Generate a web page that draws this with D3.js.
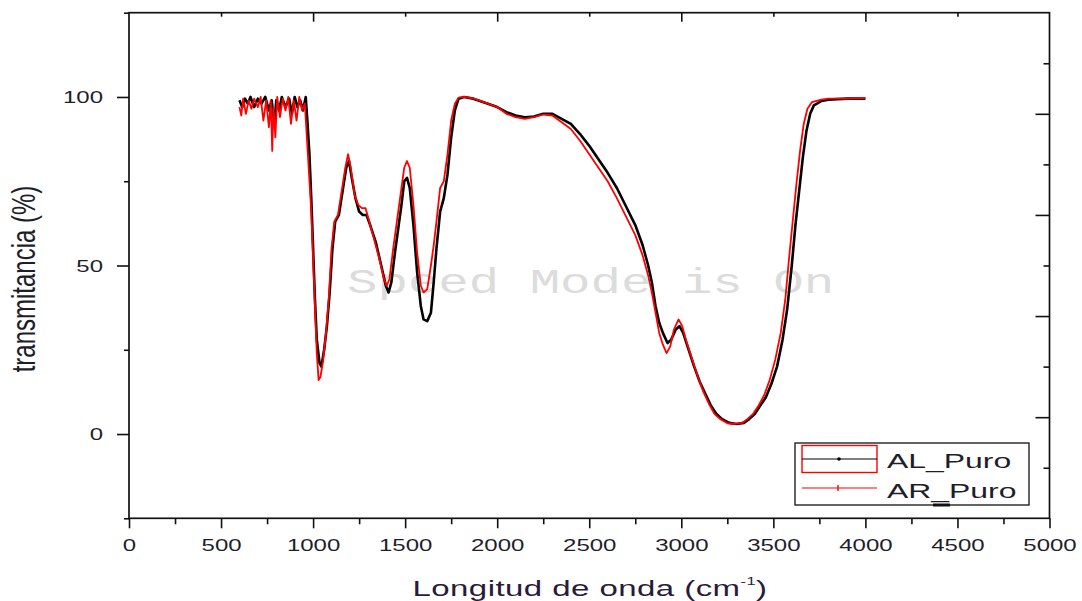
<!DOCTYPE html>
<html><head><meta charset="utf-8">
<script src="https://cdn.jsdelivr.net/npm/d3@7"></script>
<style>html,body{margin:0;padding:0;background:#fff;}svg{display:block;font-family:"Liberation Sans",Arial,sans-serif;}</style>
</head><body><svg id="chart" width="1082" height="601"></svg>
<script>
// ---- data (wavenumber cm^-1, transmittance %) ----
const alWave  = [600,615,630,645,660,680,700,720,740,760,775,790,800,815,830,850,870,885,900,915,930,945,960,970,980,990,1000,1010,1020,1035,1045,1060,1075,1090,1105,1120,1140,1160,1180,1195,1210,1230,1250,1270,1290,1310,1340,1370,1395,1410,1425,1445,1465,1480,1495,1510,1525,1545,1565,1585,1600,1620,1640,1655,1670,1690,1710,1730,1750,1770,1790,1820,1870,1950,2000,2050,2100,2150,2200,2250,2300,2350,2400,2450,2500,2550,2600,2650,2700,2750,2790,2820,2840,2860,2880,2900,2925,2945,2970,2990,3010,3040,3070,3100,3130,3160,3190,3220,3260,3300,3340,3370,3400,3430,3460,3490,3520,3550,3575,3600,3620,3640,3660,3680,3700,3720,3760,3800,3900,4000];
const alTrans = [99,97,99.5,98,100,97,99.5,98,100,96,99,92,99,96,100,97,99.5,95,100,97,99,96,100,92,83,70,55,40,28,21,20,25,32,42,55,63,65,72,79,81,76,70,66,65,65,62,57,50,44,42,45,54,62,68,75,76,73,62,48,38,34,33.5,36,45,55,66,70,77,88,96,99.5,100,99.5,98,97,95.5,94.5,94,94.2,95,95,93.5,92,89,85.5,81.5,77.5,73,67.5,62,56,50,45,38,33,30,27,28,31,32,30,25,20,15.5,12,8.5,6,4.5,3.3,3,3.3,4.5,6,8.5,11,15,20,28,37,50,62,72,82,90,95,97.5,98.8,99.2,99.5,99.5];
const arWave  = [600,610,620,635,650,665,680,700,715,730,745,760,770,778,785,795,805,820,835,850,865,880,895,910,925,940,955,965,975,990,1000,1010,1020,1030,1040,1055,1070,1085,1100,1115,1135,1155,1175,1190,1205,1225,1245,1265,1285,1300,1330,1360,1385,1400,1415,1435,1455,1475,1495,1510,1525,1545,1565,1585,1600,1620,1640,1655,1670,1690,1710,1730,1750,1770,1790,1820,1870,1950,2000,2050,2100,2150,2200,2250,2300,2350,2400,2450,2500,2550,2600,2650,2700,2750,2790,2820,2840,2860,2880,2900,2920,2940,2960,2985,3005,3030,3060,3090,3120,3150,3180,3210,3250,3290,3330,3360,3390,3420,3450,3480,3510,3540,3565,3585,3605,3625,3645,3665,3685,3710,3760,3800,3900,4000];
const arTrans = [97,94.5,99.5,95,99,96.5,99.5,97,100,93,99,91,99,84,97,88,100,94,99.5,96,100,92,99,93,100,96,98,89,80,66,52,38,24,16,17,22,30,40,55,63,65,72,79,83,79,71,68,67,67,64,58,52,46,44,46,55,63,71,79,81,79,68,54,44,42,43,50,56,63,73,75,83,93,98,99.8,100,99.6,98,97,95,94,93.5,94,94.8,94.5,92.5,90.5,87,83,79,75,70,64.5,59,53,47,42,36,30,26.5,24,26,31,34,32,27,22,17,12.5,9,6,4.5,3.2,3,3.3,4.5,6,8.5,11.5,16,22,30,40,52,63,74,84,92,96.5,98.5,99.2,99.5,99.5,99.7];
const seriesNames = ["AL_Puro", "AR_Puro"];
const seriesColors = ["#000000", "#ff0000"];
const xMajorTicks = [0,500,1000,1500,2000,2500,3000,3500,4000,4500,5000];
const xMinorTicks = [250,750,1250,1750,2250,2750,3250,3750,4250,4750];
const yMajorTicks = [0,50,100];
const yMinorTicks = [-25,25,75,125];
const topMajorTicks = [1000,2000,3000,4000];
const topMinorTicks = [500,1500,2500,3500,4500];
const rightMajorTicks = [5,35,65,95];
const rightMinorTicks = [-10,20,50,80,110];
const xTitle = "Longitud de onda (cm";
const xTitleSup = "-1";
const yTitle = "transmitancia (%)";
const watermark = "Speed Mode is On";

// ---- layout ----
const L = 129, R = 1049.5, T = 12.7, B = 518.3;
const svg = d3.select("#chart");
const x = d3.scaleLinear().domain([0, 5000]).range([L, R]);
const y = d3.scaleLinear().domain([-25, 125]).range([B, T]);
const SX = 1.5; // horizontal stretch of the original export

// watermark
svg.append("text").attr("x", 0).attr("y", 0)
  .attr("transform", `translate(347,293) scale(1.45,1)`)
  .attr("font-family", "'Courier New','Liberation Mono',monospace")
  .attr("font-size", 35).attr("fill", "#dcdcdc").text(watermark);

// curves
const line = d3.line().x(d => x(d[0])).y(d => y(d[1]));
const alData = alWave.map((w, i) => [w, alTrans[i]]);
const arData = arWave.map((w, i) => [w, arTrans[i]]);
svg.append("path").datum(alData).attr("d", line).attr("fill", "none")
  .attr("stroke", seriesColors[0]).attr("stroke-width", 2.6).attr("stroke-linejoin", "round");
svg.append("path").datum(arData).attr("d", line).attr("fill", "none")
  .attr("stroke", seriesColors[1]).attr("stroke-width", 1.8).attr("stroke-linejoin", "round");

// axes
function axis(gen, values, size, transform, labels) {
  const g = svg.append("g").attr("transform", transform)
    .call(gen.tickValues(values).tickSize(size).tickFormat(labels ? d3.format("d") : () => ""));
  g.attr("font-family", "'Liberation Sans',Arial,sans-serif").attr("font-size", 16);
  g.select(".domain").remove();
  g.selectAll("line").attr("stroke", "#111").attr("stroke-width", 1.6);
  g.selectAll("text").attr("fill", "#1e1e2a");
  if (!labels) g.selectAll("text").remove();
  return g;
}
const gb = axis(d3.axisBottom(x), xMajorTicks, 10, `translate(0,${B})`, true);
gb.selectAll("text").attr("y", 33).attr("dy", null).attr("transform", `scale(${SX},1)`);
axis(d3.axisBottom(x), xMinorTicks, 6, `translate(0,${B})`, false);
const gl = axis(d3.axisLeft(y), yMajorTicks, 12, `translate(${L},0)`, true);
gl.selectAll("text").attr("x", -26 / SX).attr("dy", null).attr("y", 5.5).attr("transform", `scale(${SX},1)`);
axis(d3.axisLeft(y), yMinorTicks, 5, `translate(${L},0)`, false);
axis(d3.axisTop(x), topMajorTicks, -9, `translate(0,${T})`, false);
axis(d3.axisTop(x), topMinorTicks, -4, `translate(0,${T})`, false);
axis(d3.axisRight(y), rightMajorTicks, -14, `translate(${R},0)`, false);
axis(d3.axisRight(y), rightMinorTicks, -6, `translate(${R},0)`, false);

// frame
svg.append("rect").attr("x", L).attr("y", T).attr("width", R - L).attr("height", B - T)
  .attr("fill", "none").attr("stroke", "#111").attr("stroke-width", 1.7);

// axis titles
const xt = svg.append("text").attr("text-anchor", "middle")
  .attr("transform", `translate(590,596) scale(1.5,1)`)
  .attr("font-size", 22).attr("letter-spacing", 0.3).attr("fill", "#2a1a3a");
xt.append("tspan").text(xTitle);
xt.append("tspan").attr("font-size", 11).attr("dy", -11).text(xTitleSup);
xt.append("tspan").attr("dy", 11).text(")");

svg.append("text").attr("text-anchor", "middle")
  .attr("transform", `translate(35,279) scale(1.4,1) rotate(-90)`)
  .attr("font-size", 24).attr("fill", "#1e1e2a").text(yTitle);

// legend
const lg = svg.append("g");
lg.append("rect").attr("x", 795).attr("y", 443).attr("width", 234).attr("height", 62)
  .attr("fill", "#fff").attr("stroke", "#111").attr("stroke-width", 1.3);
lg.append("rect").attr("x", 802).attr("y", 445.5).attr("width", 75).attr("height", 27)
  .attr("fill", "none").attr("stroke", "#ff0000").attr("stroke-width", 1.4);
lg.append("line").attr("x1", 802).attr("x2", 877).attr("y1", 459).attr("y2", 459)
  .attr("stroke", seriesColors[0]).attr("stroke-width", 1.2);
lg.append("circle").attr("cx", 839).attr("cy", 459).attr("r", 1.8).attr("fill", seriesColors[0]);
lg.append("line").attr("x1", 802).attr("x2", 877).attr("y1", 488).attr("y2", 488)
  .attr("stroke", seriesColors[1]).attr("stroke-width", 1.2);
lg.append("line").attr("x1", 838).attr("x2", 838).attr("y1", 485).attr("y2", 491)
  .attr("stroke", seriesColors[1]).attr("stroke-width", 1.4);
lg.append("line").attr("x1", 933).attr("x2", 950).attr("y1", 505).attr("y2", 505)
  .attr("stroke", "#111").attr("stroke-width", 3);
seriesNames.forEach((n, i) => {
  lg.append("text").attr("transform", `translate(887,${468 + i * 30}) scale(1.52,1)`)
    .attr("font-size", 21).attr("fill", "#1e1e2a").text(n);
});
</script></body></html>
